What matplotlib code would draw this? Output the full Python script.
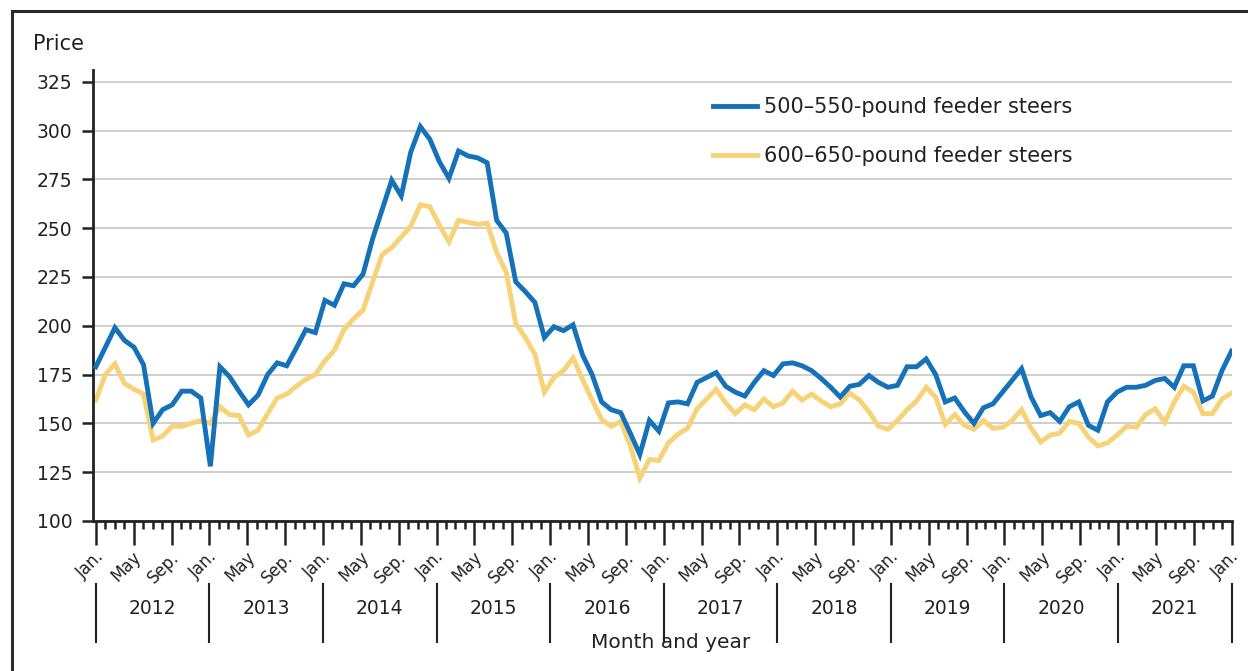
import numpy as np
import matplotlib.pyplot as plt
from matplotlib.lines import Line2D
from matplotlib.transforms import ScaledTranslation

# monthly prices, Jan 2012 .. Dec 2021
steers_500 = [179, 189, 199, 192.5, 189, 180, 150, 157, 159.5, 166.5, 166.5, 163,
              128, 179, 174, 166.5, 159.5, 164.5, 175, 181, 179.5, 188.5, 198, 196.5,
              213, 210.5, 221.5, 220.5, 226.5, 244.5, 259.5, 274.5, 266.5, 289, 302, 295.5,
              284, 275.5, 289.5, 287, 286, 283.5, 254, 247.5, 222.5, 217.5, 212, 194,
              199.5, 197.5, 200.5, 185, 175, 161, 157, 155.5, 145, 134, 151.5, 146,
              160.5, 161, 160, 171, 173.5, 176, 169, 166, 164, 171, 177, 174.5,
              180.5, 181, 179.5, 177, 173, 168.5, 163.5, 169, 170, 174.5, 171, 168.5,
              169.5, 179, 179, 183, 175, 161, 163, 156, 150, 158, 160, 166,
              172, 178, 163.5, 154, 155.5, 151, 158.5, 161, 149, 146.5, 161, 166,
              168.5, 168.5, 169.5, 172, 173, 168.5, 179.5, 179.5, 161.5, 164, 177, 187]
steers_600 = [162, 175, 180.5, 170.5, 167.5, 165, 141.5, 143.5, 148.5, 148.5, 150, 151.5,
              150, 158.5, 154.5, 154, 144, 146.5, 155, 163, 165, 169, 172.5, 175,
              182, 187.5, 198, 203.5, 208, 222.5, 236.5, 240, 245.5, 251, 262, 261,
              251.5, 243, 254, 253, 252, 252.5, 237.5, 227.5, 201, 194, 185.5, 166,
              173.5, 177, 183.5, 172.5, 162, 152, 148.5, 151, 138.5, 122, 131.5, 131,
              140, 144.5, 147.5, 157.5, 162.5, 167.5, 160.5, 155, 159.5, 157, 162.5, 158.5,
              160.5, 166.5, 162, 165, 161.5, 158.5, 160, 165.5, 162, 156, 148.5, 147,
              151.5, 157, 161.5, 168.5, 163.5, 149.5, 154.5, 149, 147, 151.5, 147.5, 148,
              151.5, 157, 147.5, 140.5, 144, 145, 151, 150, 143, 138.5, 140, 144,
              148.5, 148, 154.5, 157.5, 150.5, 161, 169, 166, 155, 155, 162.5, 165.5]
years = list(range(2012, 2022))
month_labels = ['Jan.', 'May', 'Sep.']
series_labels = ['500–550-pound feeder steers', '600–650-pound feeder steers']

blue = '#1572b9'
yellow = '#f7d277'
ink = '#222222'

plt.rcParams['font.family'] = ['DejaVu Sans']
plt.rcParams['text.color'] = ink

W, H = 1248, 671
fig = plt.figure(figsize=(W / 100, H / 100), dpi=100)
ax = fig.add_axes([93 / W, 1 - 521 / H, (1232 - 93) / W, (521 - 70) / H])

# the 120 monthly points are spread over the Jan 2012 .. Jan 2022 axis
x = np.linspace(0, 12 * len(years), len(steers_500))
ax.plot(x, steers_500, color=blue, lw=3.5, solid_joinstyle='miter', label=series_labels[0], zorder=3)
ax.plot(x, steers_600, color=yellow, lw=3.5, solid_joinstyle='miter', label=series_labels[1], zorder=2)

ax.set_xlim(-0.3, 12 * len(years) + 0.05)
ax.set_ylim(100, 331)
ax.set_yticks(range(100, 326, 25))
ax.yaxis.grid(True, color='#cfcfcf', lw=1.4)
ax.set_axisbelow(True)

for s in ['top', 'right']:
    ax.spines[s].set_visible(False)
for s in ['left', 'bottom']:
    ax.spines[s].set_linewidth(2)
    ax.spines[s].set_color(ink)

major = np.arange(0, 12 * len(years) + 1, 4)
ax.set_xticks(major)
ax.set_xticklabels([month_labels[i % 3] for i in range(len(major))])
ax.set_xticks(np.arange(0, 12 * len(years) + 1, 1), minor=True)
ax.tick_params(axis='y', length=8, width=1.8, color=ink, labelsize=13.5, labelcolor=ink, pad=7)
ax.tick_params(axis='x', which='major', length=17, width=1.8, color=ink, labelsize=12, labelcolor=ink, pad=7)
ax.tick_params(axis='x', which='minor', length=6, width=1.8, color=ink)
for lab in ax.get_xticklabels():
    lab.set_rotation(45)
    lab.set_ha('right')
    lab.set_va('center')
    lab.set_rotation_mode('anchor')
    lab.set_transform(lab.get_transform() + ScaledTranslation(0.05, 0, fig.dpi_scale_trans))

# year band under the month labels
tr = ax.get_xaxis_transform()
for i in range(len(years) + 1):
    ax.plot([12 * i, 12 * i], [-0.14, -0.268], color=ink, lw=1.5, transform=tr, clip_on=False)
for i, yr in enumerate(years):
    ax.text(12 * i + 6, -0.193, str(yr), transform=tr, ha='center', va='center', fontsize=13.5)

fig.text(671 / W, 1 - 642 / H, 'Month and year', ha='center', va='center', fontsize=14.5)
fig.text(33 / W, 1 - 44 / H, 'Price', ha='left', va='center', fontsize=15)

ax.legend(loc='upper left', bbox_to_anchor=(713 / W, 1 - 97 / H), bbox_transform=fig.transFigure,
          frameon=False, borderpad=0, borderaxespad=0, handlelength=2.1, handletextpad=0.35,
          labelspacing=1.4, fontsize=15)

# outer frame (left and top edges)
fig.add_artist(Line2D([12 / W, 12 / W], [0, 1 - 11 / H], color='#2a2a2a', lw=2.2))
fig.add_artist(Line2D([12 / W, 1], [1 - 11 / H, 1 - 11 / H], color='#2a2a2a', lw=2.2))

fig.savefig('out.png', dpi=100)
